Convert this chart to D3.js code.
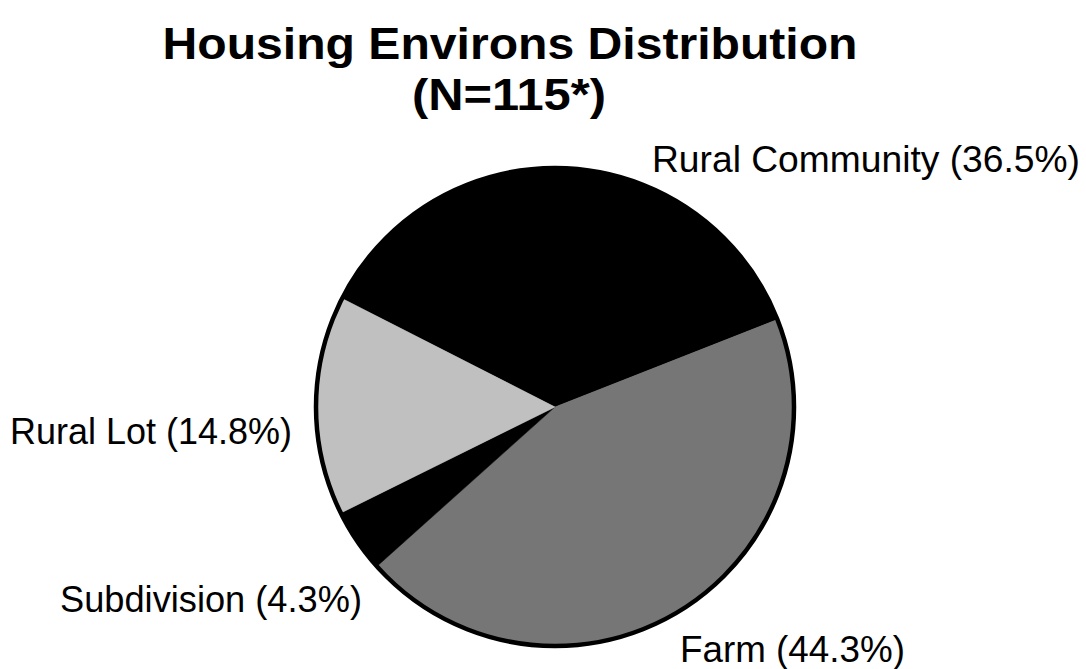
<!DOCTYPE html>
<html>
<head>
<meta charset="utf-8">
<script src="https://cdn.jsdelivr.net/npm/d3@7"></script>
<style>
  html, body { margin: 0; padding: 0; background: #fff; }
  svg { display: block; }
</style>
</head>
<body>
<svg id="chart" width="1086" height="669"></svg>
<script>
// ---- Data ----
const categories = ["Rural Community", "Farm", "Subdivision", "Rural Lot"];
const values = [36.5, 44.3, 4.3, 14.8];
const labels = ["Rural Community (36.5%)", "Farm (44.3%)", "Subdivision (4.3%)", "Rural Lot (14.8%)"];
const titleLines = ["Housing Environs Distribution", "(N=115*)"];

// ---- Styles / layout ----
const fills = ["#000000", "#767676", "#000000", "#c0c0c0"];
const cx = 555, cy = 407, radius = 239;
const startDeg = -63;
const labelPos = [
  { x: 652, y: 172, len: 428 },
  { x: 680, y: 662, len: 225 },
  { x: 60, y: 612, len: 302 },
  { x: 10, y: 444, len: 282 }
];
const titleLayout = [
  { x: 510, y: 59, len: 695 },
  { x: 509, y: 110, len: 194 }
];

const svg = d3.select("#chart");

// Title
svg.append("g")
  .attr("font-family", "'Liberation Sans', Arial, Helvetica, sans-serif")
  .attr("font-weight", "bold").attr("fill", "#000").attr("text-anchor", "middle")
  .attr("font-size", 45)
  .selectAll("text").data(titleLines).join("text")
  .attr("x", (d, i) => titleLayout[i].x)
  .attr("y", (d, i) => titleLayout[i].y)
  .attr("textLength", (d, i) => titleLayout[i].len)
  .attr("lengthAdjust", "spacingAndGlyphs")
  .text(d => d);

// Pie
const start = startDeg * Math.PI / 180;
const pie = d3.pie().sort(null).value(d => d.v).startAngle(start).endAngle(start + 2 * Math.PI);
const arc = d3.arc().innerRadius(0).outerRadius(radius);
const data = categories.map((c, i) => ({ c, v: values[i], i }));

const g = svg.append("g").attr("transform", `translate(${cx},${cy})`);
g.selectAll("path.slice").data(pie(data)).join("path")
  .attr("class", "slice")
  .attr("d", arc)
  .attr("fill", d => fills[d.data.i])
  .attr("stroke", d => fills[d.data.i])
  .attr("stroke-width", 0.5);

g.append("circle").attr("r", radius).attr("fill", "none")
  .attr("stroke", "#000").attr("stroke-width", 4.5);

// Labels
svg.append("g").attr("font-family", "'Liberation Sans', Arial, Helvetica, sans-serif")
  .attr("font-size", 36).attr("fill", "#000")
  .selectAll("text").data(labels).join("text")
  .attr("x", (d, i) => labelPos[i].x)
  .attr("y", (d, i) => labelPos[i].y)
  .attr("textLength", (d, i) => labelPos[i].len)
  .attr("lengthAdjust", "spacingAndGlyphs")
  .text(d => d);
</script>
</body>
</html>
